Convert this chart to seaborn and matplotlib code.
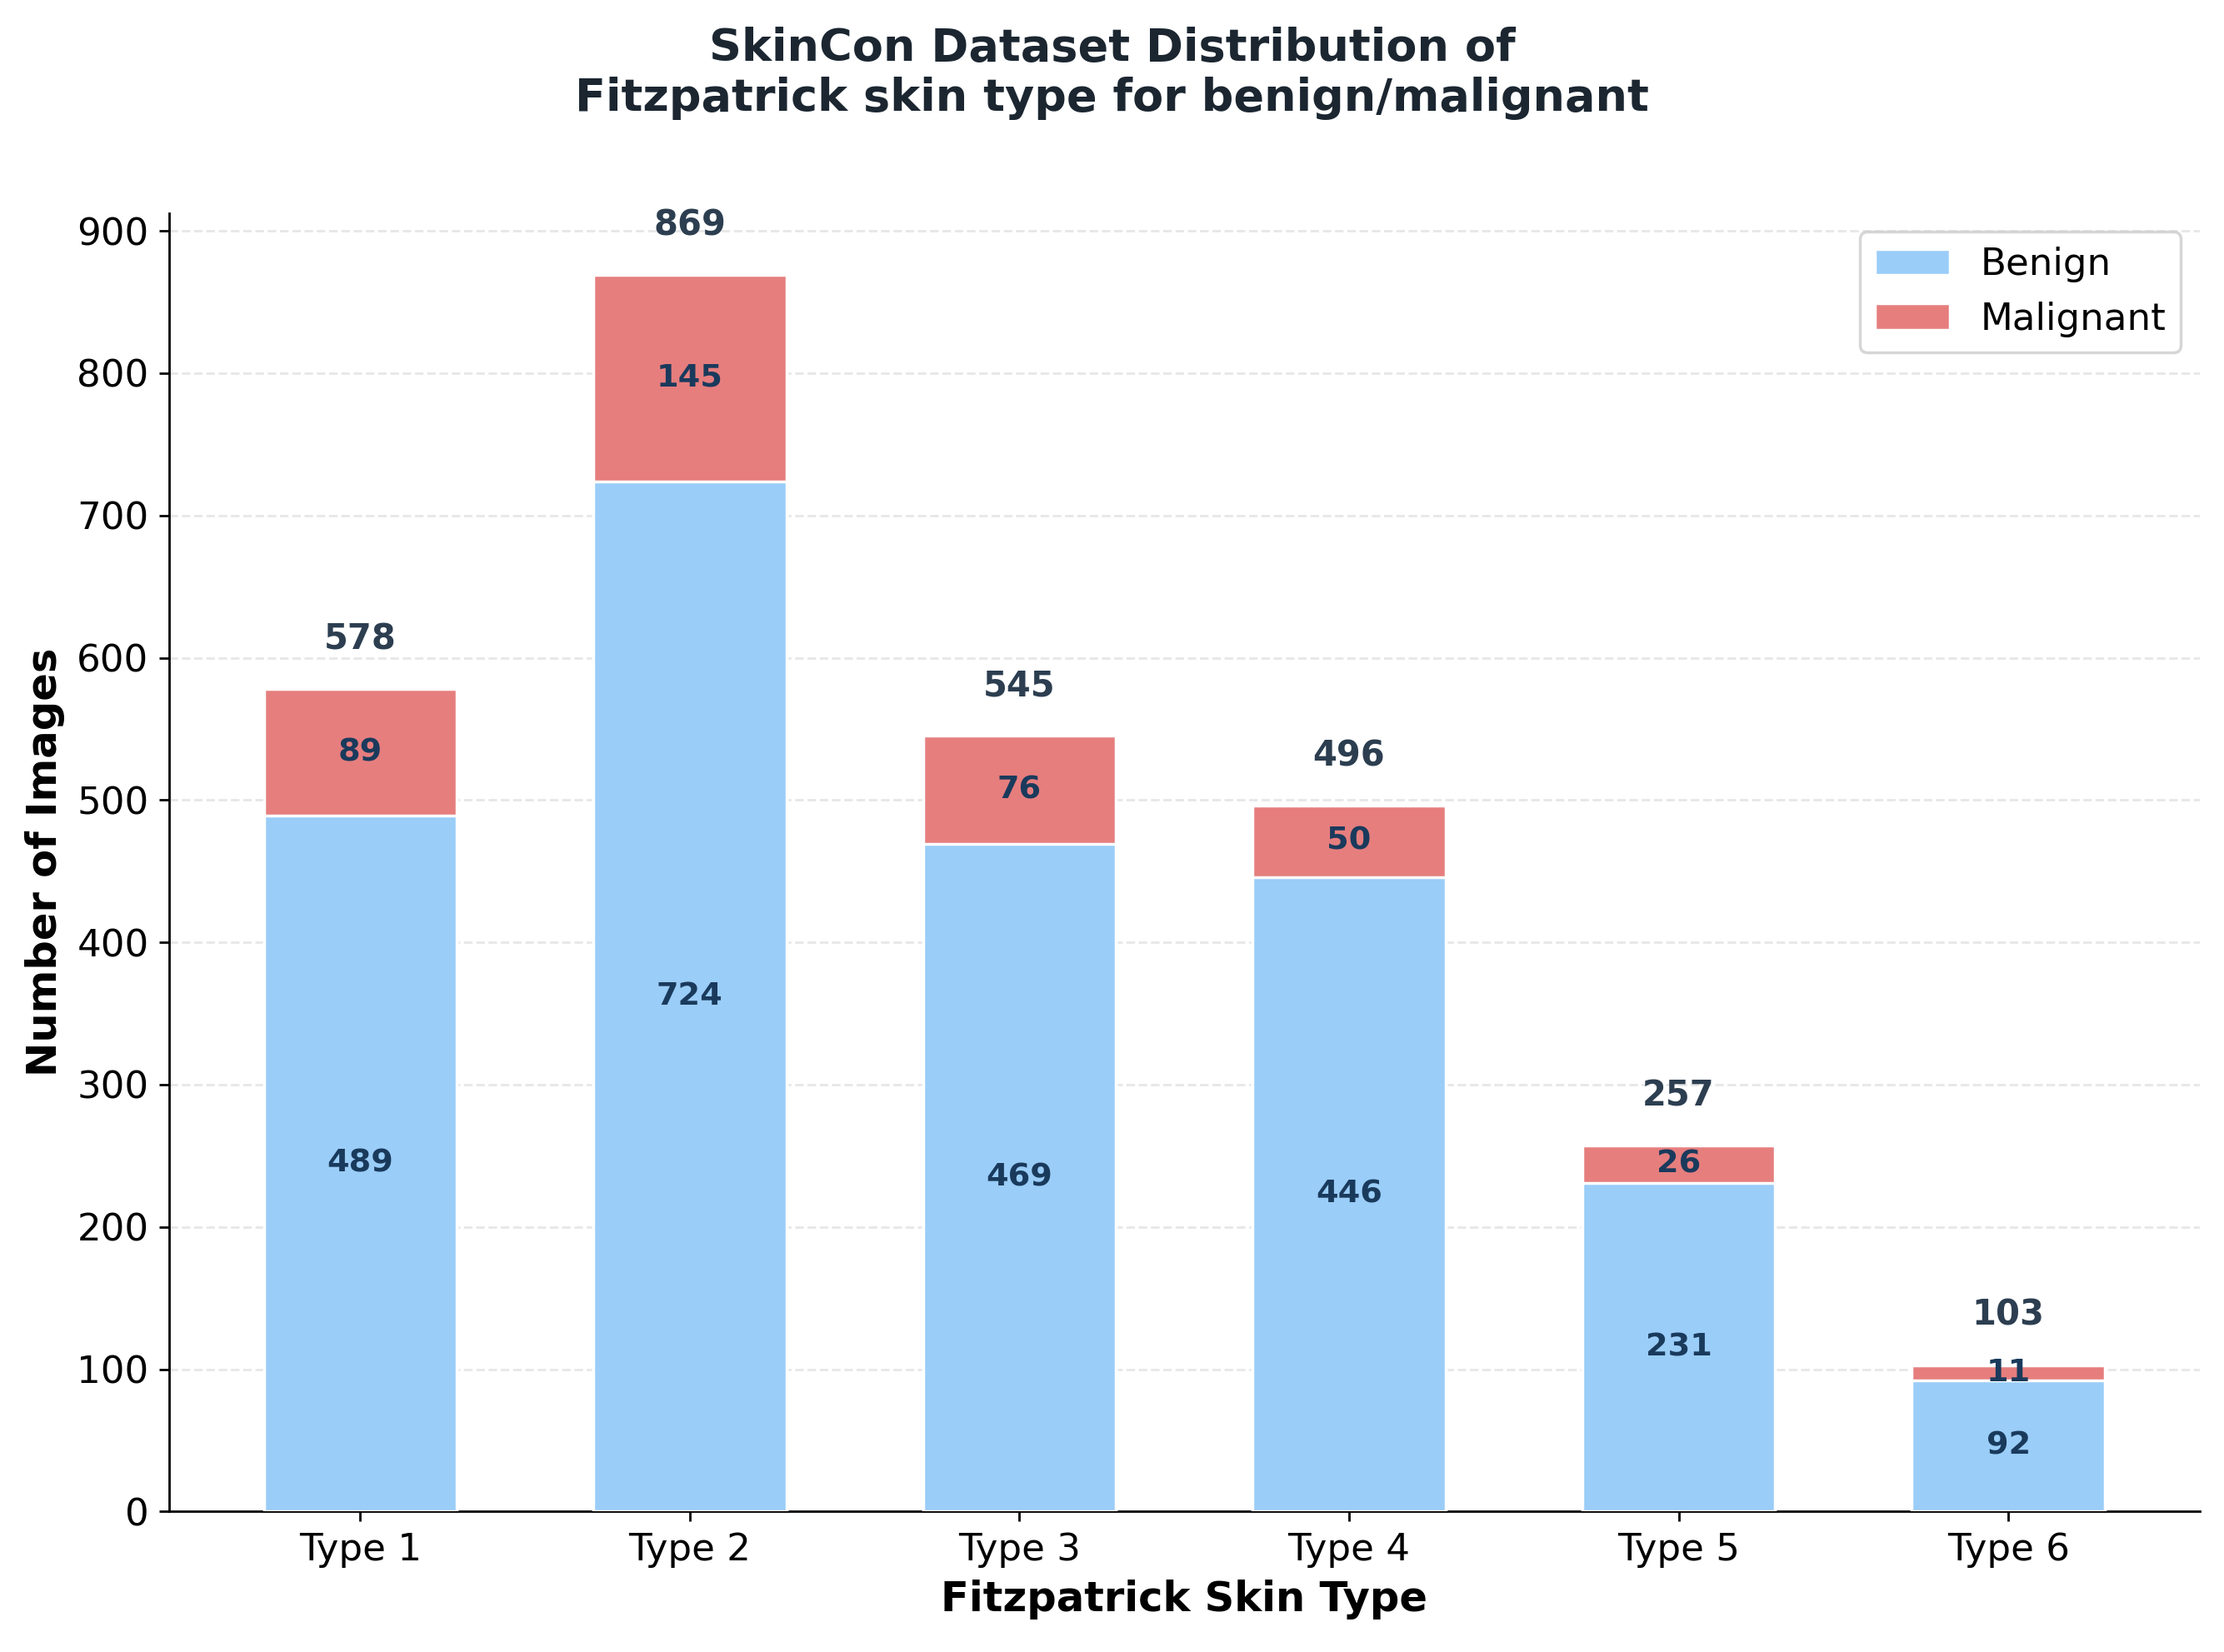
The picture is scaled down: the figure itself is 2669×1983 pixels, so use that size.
import pandas as pd
import seaborn as sns
import matplotlib.pyplot as plt
from matplotlib.ticker import MultipleLocator

# Data
skin_types = ["Type 1", "Type 2", "Type 3", "Type 4", "Type 5", "Type 6"]
benign = [489, 724, 469, 446, 231, 92]
malignant = [89, 145, 76, 50, 26, 11]

df = pd.DataFrame({"type": skin_types, "benign": benign, "malignant": malignant})
df["total"] = df["benign"] + df["malignant"]

blue = "#9acdf8"
red = "#e67e7e"

fig, ax = plt.subplots(figsize=(2669 / 250, 1983 / 250), dpi=250)
fig.subplots_adjust(left=0.076, right=0.989, bottom=0.085, top=0.871)

# totals in red first, benign drawn over the lower part -> stacked look
sns.barplot(data=df, x="type", y="total", color=red, width=0.585, saturation=1,
            edgecolor="white", linewidth=1, label="Malignant", ax=ax, zorder=3)
sns.barplot(data=df, x="type", y="benign", color=blue, width=0.585, saturation=1,
            edgecolor="white", linewidth=1, label="Benign", ax=ax, zorder=4)

top = df["total"].max()
for i, row in df.iterrows():
    ax.text(i, row["benign"] / 2, str(row["benign"]), ha="center", va="center",
            fontsize=11, fontweight="bold", color="#1a3a5c", zorder=5)
    ax.text(i, row["benign"] + row["malignant"] / 2, str(row["malignant"]),
            ha="center", va="center", fontsize=11, fontweight="bold",
            color="#1a3a5c", zorder=5)
    ax.text(i, row["total"] + top * 0.026, str(row["total"]), ha="center",
            va="bottom", fontsize=12, fontweight="bold", color="#2c3e50", zorder=5)

ax.set_xlim(-0.58, 5.58)
ax.set_ylim(0, top * 1.05)
ax.yaxis.set_major_locator(MultipleLocator(100))
ax.grid(axis="y", linestyle="--", alpha=0.3, zorder=0)
ax.set_axisbelow(True)
ax.spines["top"].set_visible(False)
ax.spines["right"].set_visible(False)
ax.tick_params(labelsize=13)

ax.set_xlabel("Fitzpatrick Skin Type", fontsize=14.3, fontweight="bold")
ax.set_ylabel("Number of Images", fontsize=14.3, fontweight="bold")

handles, labels = ax.get_legend_handles_labels()
order = [labels.index("Benign"), labels.index("Malignant")]
ax.legend([handles[k] for k in order], [labels[k] for k in order],
          loc="upper right", fontsize=13)

fig.suptitle("SkinCon Dataset Distribution of\nFitzpatrick skin type for benign/malignant",
             fontsize=15.6, fontweight="bold", color="#1b2631", y=0.984)

fig.savefig("out.png", dpi=250)
